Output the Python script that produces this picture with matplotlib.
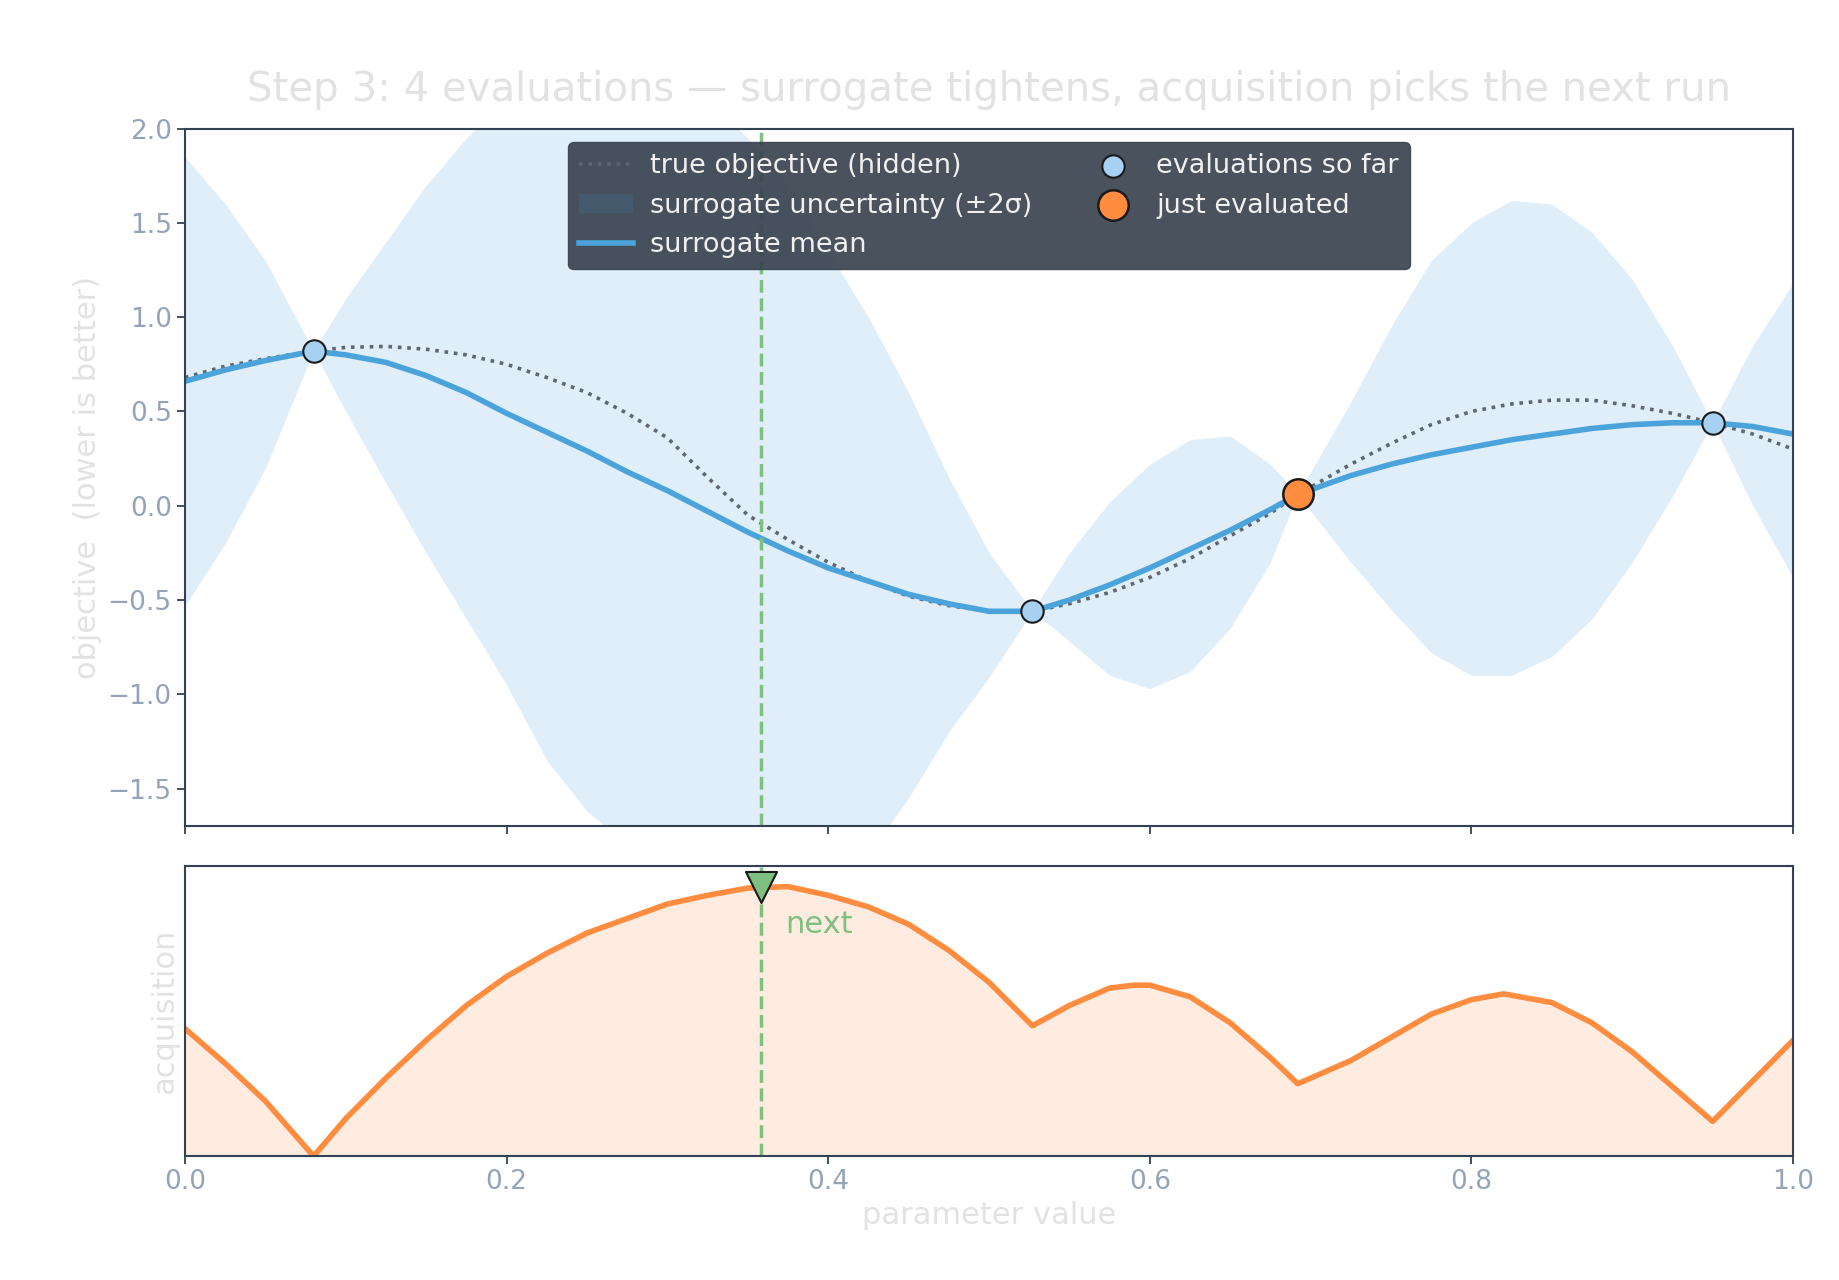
import matplotlib
matplotlib.use("Agg")
import matplotlib.pyplot as plt

# points
x_pts = [0.0, 0.025, 0.05, 0.08, 0.1, 0.125, 0.15, 0.175, 0.2, 0.225, 0.25, 0.275, 0.3, 0.325,
         0.35, 0.375, 0.4, 0.425, 0.45, 0.475, 0.5, 0.527, 0.55, 0.575, 0.6, 0.625, 0.65, 0.675,
         0.692, 0.725, 0.75, 0.775, 0.8, 0.825, 0.85, 0.875, 0.9, 0.925, 0.95, 0.975, 1.0]
mean_vals = [0.66, 0.72, 0.77, 0.82, 0.80, 0.76, 0.69, 0.60, 0.49, 0.39, 0.29, 0.18, 0.08, -0.03,
             -0.14, -0.24, -0.33, -0.40, -0.47, -0.52, -0.56, -0.56, -0.50, -0.42, -0.33, -0.23, -0.13, -0.02,
             0.06, 0.16, 0.22, 0.27, 0.31, 0.35, 0.38, 0.41, 0.43, 0.44, 0.44, 0.42, 0.38]
upper_vals = [1.85, 1.6, 1.3, 0.82, 1.1, 1.4, 1.7, 1.95, 2.15, 2.3, 2.38, 2.38, 2.3, 2.15,
              1.95, 1.7, 1.35, 1.0, 0.6, 0.15, -0.25, -0.56, -0.25, 0.02, 0.22, 0.35, 0.37, 0.22,
              0.06, 0.55, 0.95, 1.3, 1.5, 1.62, 1.6, 1.45, 1.2, 0.85, 0.44, 0.85, 1.18]
lower_vals = [-0.53, -0.2, 0.2, 0.82, 0.5, 0.12, -0.25, -0.6, -0.95, -1.35, -1.62, -1.8, -1.95, -2.0,
              -2.05, -2.0, -1.95, -1.85, -1.55, -1.2, -0.91, -0.56, -0.72, -0.9, -0.97, -0.88, -0.65, -0.3,
              0.06, -0.3, -0.55, -0.78, -0.9, -0.9, -0.8, -0.6, -0.3, 0.05, 0.44, 0.0, -0.38]
true_vals = [0.68, 0.74, 0.78, 0.82, 0.84, 0.845, 0.83, 0.8, 0.75, 0.68, 0.6, 0.49, 0.36, 0.15,
             -0.05, -0.18, -0.3, -0.4, -0.48, -0.53, -0.56, -0.56, -0.52, -0.46, -0.38, -0.28, -0.16, -0.04,
             0.06, 0.22, 0.33, 0.43, 0.5, 0.54, 0.56, 0.56, 0.53, 0.49, 0.44, 0.38, 0.3]

acq_x = [0.0, 0.025, 0.05, 0.08, 0.1, 0.125, 0.15, 0.175, 0.2, 0.225, 0.25, 0.275, 0.3, 0.325,
         0.35, 0.375, 0.4, 0.425, 0.45, 0.475, 0.5, 0.527, 0.55, 0.575, 0.59, 0.6, 0.625, 0.65,
         0.675, 0.692, 0.725, 0.75, 0.775, 0.8, 0.82, 0.85, 0.875, 0.9, 0.925, 0.95, 0.975, 1.0]
acq_vals = [0.44, 0.32, 0.19, 0.0, 0.13, 0.27, 0.4, 0.52, 0.62, 0.7, 0.77, 0.82, 0.87, 0.9,
            0.925, 0.93, 0.9, 0.86, 0.8, 0.71, 0.6, 0.45, 0.52, 0.58, 0.59, 0.59, 0.55, 0.46,
            0.34, 0.25, 0.33, 0.41, 0.49, 0.54, 0.56, 0.53, 0.46, 0.36, 0.24, 0.12, 0.26, 0.4]

eval_x = [0.08, 0.527, 0.95]
eval_y = [0.82, -0.56, 0.44]
last_x, last_y = 0.692, 0.06
next_x = 0.358
next_peak = 0.93

tick_c = "#94a3b8"
label_c = "#e2e2e2"
spine_c = "#334155"

fig = plt.figure(figsize=(18.39, 12.8), dpi=100)
ax = fig.add_axes([0.1006, 0.3545, 0.8744, 0.545])
ax2 = fig.add_axes([0.1006, 0.0967, 0.8744, 0.2265], sharex=ax)

ax.fill_between(x_pts, lower_vals, upper_vals, color="#dfeef9", lw=0, label="surrogate uncertainty (±2σ)")
ax.plot(x_pts, true_vals, ls=(0, (1, 1.6)), color="#5f6670", lw=2.6, label="true objective (hidden)")
ax.plot(x_pts, mean_vals, color="#4ba3dc", lw=4, label="surrogate mean")
ax.axvline(next_x, color="#7fbf7f", ls="--", lw=2.5)
ax.scatter(eval_x, eval_y, s=260, color="#a6d1f3", edgecolor="#1a1a1a", lw=1.5, zorder=5,
           label="evaluations so far")
ax.scatter([last_x], [last_y], s=480, color="#ff8c3f", edgecolor="#1a1a1a", lw=1.8, zorder=6,
           label="just evaluated")
ax.set_xlim(0, 1)
ax.set_ylim(-1.7, 2.0)
ax.set_ylabel("objective  (lower is better)", color=label_c, fontsize=22)
ax.set_title("Step 3: 4 evaluations — surrogate tightens, acquisition picks the next run",
             color=label_c, fontsize=29, pad=20)
h, l = ax.get_legend_handles_labels()
order = [l.index(s) for s in ["true objective (hidden)", "surrogate uncertainty (±2σ)",
                              "surrogate mean", "evaluations so far", "just evaluated"]]
leg = ax.legend([h[i] for i in order], [l[i] for i in order], ncol=2, loc="upper center",
                fontsize=19.5, facecolor="#3a4350", edgecolor="#3a4350", framealpha=0.92,
                labelcolor="#f0f0f0", columnspacing=2.0, handletextpad=0.6,
                bbox_to_anchor=(0.5, 1.0))
leg.legend_handles[1].set_color("#465a6e")
ax.tick_params(labelbottom=False)

ax2.fill_between(acq_x, 0, acq_vals, color="#ffece0", lw=0)
ax2.plot(acq_x, acq_vals, color="#ff8c3f", lw=4)
ax2.axvline(next_x, color="#7fbf7f", ls="--", lw=2.5)
ax2.scatter([next_x], [next_peak], marker="v", s=500, color="#7fbf7f", edgecolor="#1a1a1a", lw=1.5, zorder=5)
ax2.text(next_x + 0.015, 0.8, "next", color="#7fbf7f", fontsize=22, va="center")
ax2.set_ylim(0, 1)
ax2.set_yticks([])
ax2.set_ylabel("acquisition", color=label_c, fontsize=22)
ax2.set_xlabel("parameter value", color=label_c, fontsize=22)

for a in (ax, ax2):
    for s in a.spines.values():
        s.set_color(spine_c)
        s.set_linewidth(1.5)
    a.tick_params(colors=tick_c, labelsize=19, length=6, width=1.3)
    a.tick_params(axis="both", color=spine_c)

fig.savefig("out.png")
